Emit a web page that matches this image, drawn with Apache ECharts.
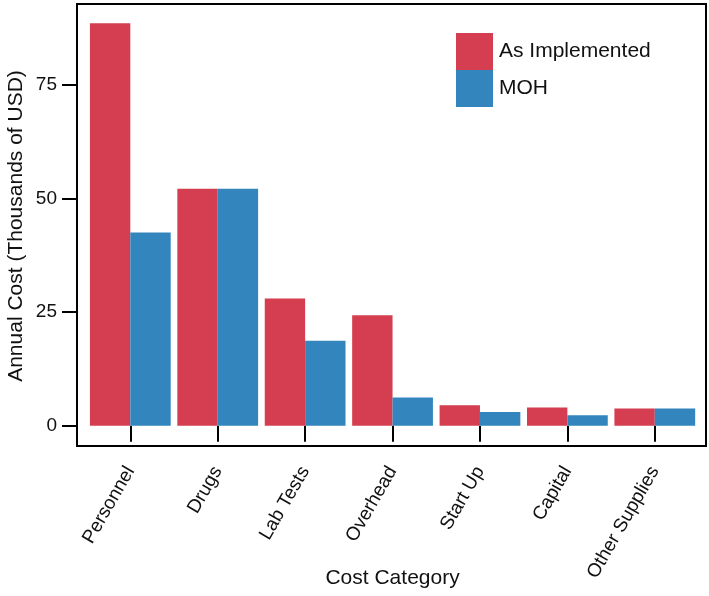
<!DOCTYPE html>
<html>
<head>
<meta charset="utf-8">
<script src="https://cdn.jsdelivr.net/npm/echarts@6/dist/echarts.min.js"></script>
<style>
html,body{margin:0;padding:0;background:#fff;}
#chart{width:709px;height:596px;}
</style>
</head>
<body>
<div id="chart"></div>
<script>
const categories = ['Personnel', 'Drugs', 'Lab Tests', 'Overhead', 'Start Up', 'Capital', 'Other Supplies'];
const asImplemented = [88.5, 52.1, 28.0, 24.3, 4.5, 4.0, 3.8];
const moh = [42.5, 52.1, 18.7, 6.2, 3.0, 2.3, 3.8];
const yTicks = [0, 25, 50, 75];

const FONT = '"Liberation Sans", Arial, Helvetica, sans-serif';
const chart = echarts.init(document.getElementById('chart'), null, {renderer: 'canvas'});
chart.setOption({
  backgroundColor: '#fff',
  animation: false,
  textStyle: {fontFamily: FONT},
  grid: {left: 86.6, right: 10.5, top: -29, bottom: 170.3, containLabel: false, outerBoundsMode: 'none'},
  legend: {
    orient: 'vertical', left: 451, top: 28,
    itemWidth: 37, itemHeight: 37, itemGap: 0,
    icon: 'rect',
    textStyle: {fontSize: 21, color: '#111', fontFamily: FONT, padding: [0, 0, 0, 1]},
    data: ['As Implemented', 'MOH']
  },
  xAxis: {
    type: 'category',
    data: categories,
    offset: 20.3,
    axisLine: {show: false},
    axisTick: {show: true, alignWithLabel: true, length: 16, lineStyle: {color: '#000', width: 2}},
    axisLabel: {rotate: 60, fontSize: 19, color: '#111', margin: 22, fontFamily: FONT, interval: 0},
    name: 'Cost Category',
    nameLocation: 'middle',
    nameGap: 122,
    nameMoveOverlap: false,
    nameTextStyle: {fontSize: 21, color: '#111', fontFamily: FONT}
  },
  yAxis: {
    type: 'value',
    min: 0, max: 100, interval: 25,
    offset: 9.6,
    splitLine: {show: false},
    axisLine: {show: false},
    axisTick: {show: true, length: 15, lineStyle: {color: '#000', width: 2}},
    axisLabel: {
      fontSize: 19, color: '#111', margin: 20, fontFamily: FONT,
      formatter: v => (yTicks.indexOf(v) >= 0 ? String(v) : '')
    }
  },
  series: [
    {name: 'As Implemented', type: 'bar', data: asImplemented, barWidth: '46.2%', barGap: '0%',
     itemStyle: {color: '#D43E50'}},
    {name: 'MOH', type: 'bar', data: moh, barWidth: '46.2%', barGap: '0%',
     itemStyle: {color: '#3286BD'}}
  ],
  graphic: [{
    type: 'rect', z: 100, silent: true,
    shape: {x: 77, y: 4, width: 629, height: 442},
    style: {fill: 'none', stroke: '#000', lineWidth: 2}
  }, {
    type: 'text', silent: true,
    x: 16, y: 226, rotation: Math.PI / 2,
    style: {text: 'Annual Cost (Thousands of USD)', fontSize: 21, fill: '#111', fontFamily: FONT,
            align: 'center', verticalAlign: 'middle'}
  }]
});
</script>
</body>
</html>
